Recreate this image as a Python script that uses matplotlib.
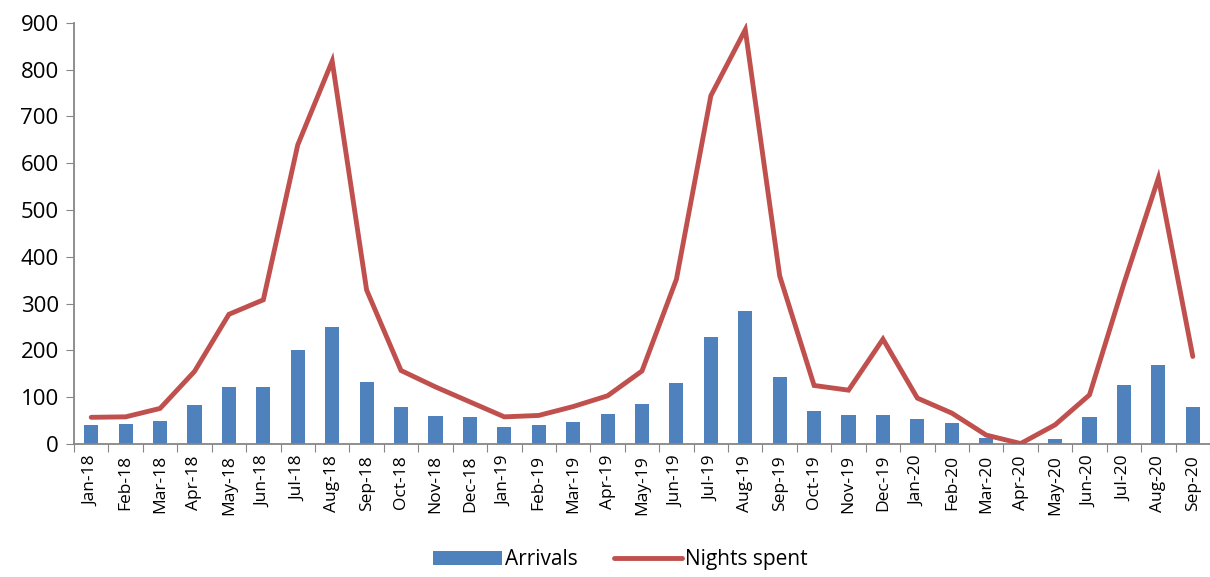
import numpy as np
import matplotlib
matplotlib.use("Agg")
import matplotlib.pyplot as plt

months = ["Jan-18", "Feb-18", "Mar-18", "Apr-18", "May-18", "Jun-18", "Jul-18", "Aug-18",
          "Sep-18", "Oct-18", "Nov-18", "Dec-18", "Jan-19", "Feb-19", "Mar-19", "Apr-19",
          "May-19", "Jun-19", "Jul-19", "Aug-19", "Sep-19", "Oct-19", "Nov-19", "Dec-19",
          "Jan-20", "Feb-20", "Mar-20", "Apr-20", "May-20", "Jun-20", "Jul-20", "Aug-20",
          "Sep-20"]
arrivals = [40, 43, 49, 83, 121, 121, 201, 251, 132, 80, 60, 58,
            36, 40, 47, 64, 85, 130, 229, 284, 143, 71, 62, 62,
            53, 45, 12, 0, 11, 57, 125, 168, 79]
nights = [57, 58, 76, 155, 277, 308, 639, 818, 329, 157, 122, 90,
          58, 61, 80, 103, 156, 352, 744, 885, 359, 125, 115, 224,
          98, 66, 19, 1, 41, 105, 343, 568, 187]

plt.rcParams['font.family'] = ['Open Sans', 'DejaVu Sans']

fig = plt.figure(figsize=(12.1, 5.77), dpi=100)
ax = fig.add_axes([74 / 1210, 1 - 444 / 577, 1 - 74 / 1210, (444 - 22.7) / 577])

x = np.arange(len(months))
bars = ax.bar(x, arrivals, width=0.41, color='#4F81BD', label='Arrivals', zorder=2)
line, = ax.plot(x, nights, color='#C0504D', lw=3.5, solid_capstyle='round',
                solid_joinstyle='miter', label='Nights spent', zorder=3)

ax.set_xlim(-0.5, len(months) - 0.5)
ax.set_ylim(0, 900)
ax.set_yticks(range(0, 901, 100))
ax.tick_params(axis='y', labelsize=16, length=6, color='#868686', pad=5)

# category ticks sit between the months, labels at the month centres
ax.set_xticks(np.arange(-0.5, len(months), 1.0))
ax.set_xticklabels([])
ax.set_xticks(x, minor=True)
ax.set_xticklabels(months, minor=True, rotation=90, fontsize=12.5)
ax.tick_params(axis='x', which='major', length=6, color='#868686')
ax.tick_params(axis='x', which='minor', length=0, pad=8)

for s in ['top', 'right']:
    ax.spines[s].set_visible(False)
for s in ['left', 'bottom']:
    ax.spines[s].set_color('#868686')
    ax.spines[s].set_linewidth(1.3)

fig.legend([bars, line], ['Arrivals', 'Nights spent'], loc='center',
           bbox_to_anchor=(0.513, 0.03), ncol=2, frameon=False,
           fontsize=15, handlelength=3.3, handletextpad=0.15, columnspacing=1.7)

fig.savefig('out.png', dpi=100)
